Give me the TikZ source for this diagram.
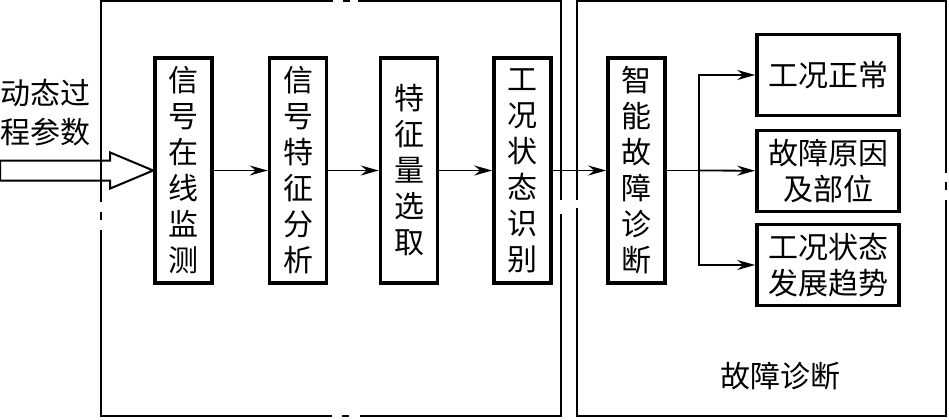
\documentclass[tikz,border=0pt]{standalone}
\usepackage{fontspec}
\usepackage{tikz}
\usetikzlibrary{arrows.meta,calc}
\newfontfamily\cjk{Noto Sans CJK SC}

\begin{document}
\begin{tikzpicture}[x=0.5pt,y=-0.5pt,
                    stage box/.style={draw,line width=1.8pt,minimum width=28.5pt,minimum height=112.5pt,
                                      inner sep=0pt,align=center,font=\cjk\fontsize{15}{18}\selectfont},
                    out box/.style={draw,line width=1.8pt,minimum width=71pt,minimum height=40.5pt,
                                    inner sep=0pt,align=center,font=\cjk\fontsize{15}{18}\selectfont},
                    frame/.style={line width=1.2pt},
                    flow/.style={line width=0.9pt,-{Stealth[length=9pt,width=5pt,inset=3pt]}}]
 \useasboundingbox (0,0) rectangle (949,419);

 % frames
 \draw[frame] (101,202) -- (101,1) -- (333,1);
 \draw[frame] (358,1) -- (561,1) -- (561,200);
 \draw[frame] (561,214) -- (561,416) -- (360,416);
 \draw[frame] (332,416) -- (101,416) -- (101,230);
 \draw[frame] (101,212) -- (101,220);
 \draw[frame] (343,1) -- (350,1);
 \draw[frame] (342,416) -- (349,416);
 \draw[frame] (577,200) -- (577,1) -- (946,1) -- (946,173);
 \draw[frame] (946,200) -- (946,416) -- (577,416) -- (577,208);
 \draw[frame] (946,182) -- (946,190);

 % boxes
 \node[stage box] (monitor) at (183.5,170.5) {信\\号\\在\\线\\监\\测};
 \node[stage box] (analysis) at (298,170.5) {信\\号\\特\\征\\分\\析};
 \node[stage box] (select) at (409,170.5) {特\\征\\量\\选\\取};
 \node[stage box] (recog) at (522.5,170.5) {工\\况\\状\\态\\识\\别};
 \node[stage box] (diag) at (636.5,170.5) {智\\能\\故\\障\\诊\\断};

 \node[out box] (normal) at (828,75) {工况正常};
 \node[out box] (cause) at (828,171) {故障原因\\及部位};
 \node[out box] (trend) at (828,265) {工况状态\\发展趋势};

 \node[align=left,inner sep=0pt,font=\cjk\fontsize{15}{19.5}\selectfont] (input) at (46,113) {动态过\\程参数};
 \node[inner sep=0pt,font=\cjk\fontsize{15}{18}\selectfont] (title) at (780,376) {故障诊断};

 % hollow input arrow
 \draw[line width=1pt,line join=miter] (monitor.west) -- ++(-43,-18) -- ++(0,8) -- ++(-110,0)
   -- ++(0,20) -- ++(110,0) -- ++(0,8) -- cycle;

 \draw[flow] (monitor) -- (analysis);
 \draw[flow] (analysis) -- (select);
 \draw[flow] (select) -- (recog);
 \draw[flow] (recog) -- (diag);

 \coordinate (fork) at (699,170.5);
 \draw[line width=0.9pt] (diag) -- (fork);
 \draw[flow] (fork) |- (normal);
 \draw[flow] (fork) -- (cause);
 \draw[flow] (fork) |- (trend);
\end{tikzpicture}
\end{document}
